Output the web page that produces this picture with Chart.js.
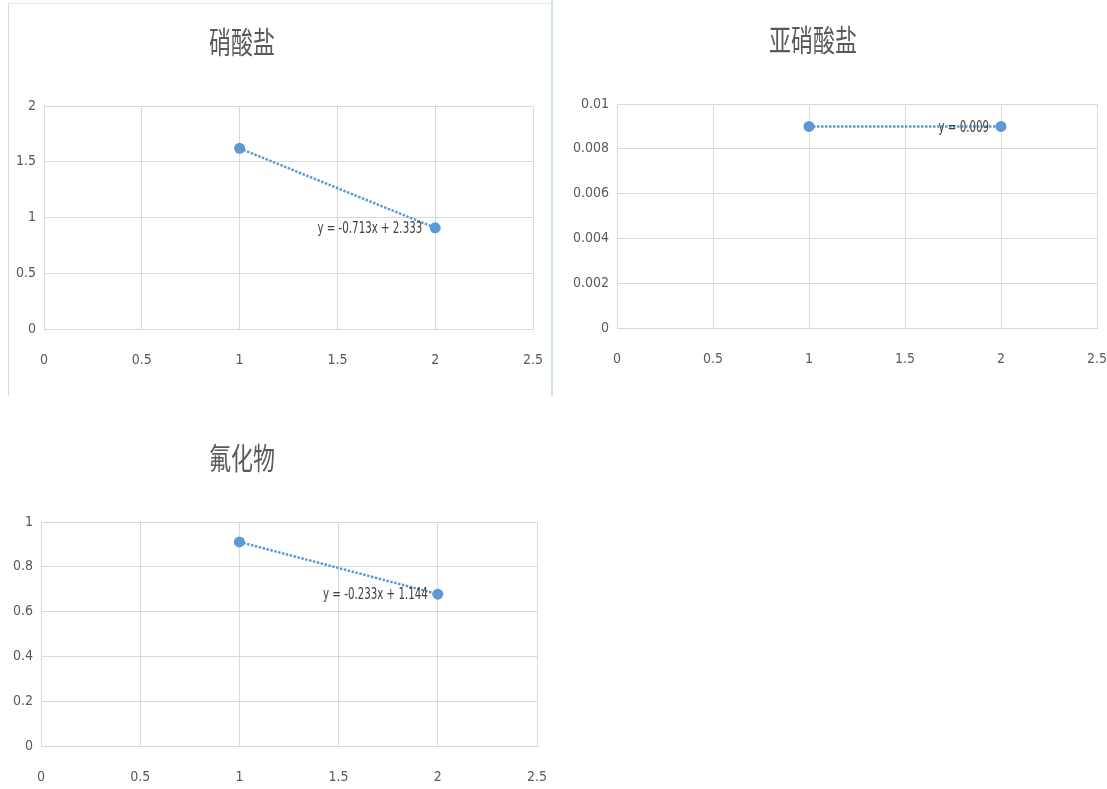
<!DOCTYPE html>
<html><head><meta charset="utf-8">
<script src="https://cdn.jsdelivr.net/npm/chart.js@4"></script>
<style>
html,body{margin:0;padding:0;background:#fff;width:1107px;height:789px;overflow:hidden;}
.box{position:absolute;}
.box canvas{display:block;}
#frame1{position:absolute;left:8px;top:3px;width:542px;height:392px;border-left:1px solid #d9d9d9;border-top:1px solid #e6e6e6;}
#sep{position:absolute;left:551px;top:0;width:2px;height:396px;background:#d3e8d3;}
</style></head><body>
<div id="frame1"></div>
<div id="sep"></div>
<div class="box" style="left:9px;top:4px;"><canvas id="c1" width="541" height="391"></canvas></div>
<div class="box" style="left:553px;top:0px;"><canvas id="c2" width="554" height="395"></canvas></div>
<div class="box" style="left:0px;top:398px;"><canvas id="c3" width="552" height="391"></canvas></div>
<script>
// ---- data ----
const titles = ['硝酸盐', '亚硝酸盐', '氟化物'];
const xValues = [1, 2];
const nitrateValues = [1.62, 0.907];
const nitriteValues = [0.009, 0.009];
const fluorideValues = [0.911, 0.678];
const equations = ['y = -0.713x + 2.333', 'y = 0.009', 'y = -0.233x + 1.144'];
const xTickLabels = ['0', '0.5', '1', '1.5', '2', '2.5'];
const nitrateYTicks = ['0', '0.5', '1', '1.5', '2'];
const nitriteYTicks = ['0', '0.002', '0.004', '0.006', '0.008', '0.01'];
const fluorideYTicks = ['0', '0.2', '0.4', '0.6', '0.8', '1'];

const BLUE = '#5b9bd5';
const GRID = '#d9d9d9';
const TXT = '#595959';
const TICKFONT = {family: '"DejaVu Sans Condensed", "Liberation Sans", sans-serif', size: 14};

const annot = {
  id: 'annot',
  afterDatasetsDraw(chart, args, o) {
    const ctx = chart.ctx;
    ctx.save();
    ctx.fillStyle = TXT;
    ctx.font = '22px "Noto Sans CJK SC"';
    ctx.textAlign = 'center';
    ctx.textBaseline = 'middle';
    ctx.translate(o.titleX, o.titleY);
    ctx.scale(1, 1.35);
    ctx.fillText(o.title, 0, 0);
    ctx.restore();

    const meta = chart.getDatasetMeta(0);
    const last = meta.data[meta.data.length - 1];
    ctx.save();
    ctx.font = '15px "DejaVu Sans Condensed", sans-serif';
    ctx.fillStyle = '#404040';
    ctx.textAlign = 'right';
    ctx.textBaseline = 'middle';
    ctx.translate(last.x - o.eqGap, last.y + 1);
    ctx.scale(0.76, 1.1);
    ctx.fillText(o.eq, 0, 0);
    ctx.restore();
  }
};

function makeChart(id, values, yMax, yStep, yLabels, title, eq, L) {
  new Chart(document.getElementById(id), {
    type: 'scatter',
    data: {
      datasets: [{
        data: xValues.map((x, i) => ({x: x, y: values[i]})),
        showLine: true,
        borderColor: BLUE,
        borderWidth: 2.5,
        borderDash: [2.5, 1.5],
        pointRadius: 5.5,
        pointHoverRadius: 5.5,
        pointBackgroundColor: BLUE,
        pointBorderColor: BLUE,
        pointBorderWidth: 0
      }]
    },
    options: {
      responsive: false,
      animation: false,
      devicePixelRatio: 1,
      layout: {padding: {left: 0, top: L.top, right: L.right, bottom: 0}},
      plugins: {
        legend: {display: false},
        tooltip: {enabled: false},
        annot: {title: title, eq: eq, titleX: L.titleX, titleY: L.titleY, eqGap: L.eqGap}
      },
      scales: {
        x: {
          type: 'linear', min: 0, max: 2.5,
          ticks: {stepSize: 0.5, padding: 23, color: TXT, font: TICKFONT, maxRotation: 0, autoSkip: false,
                  callback: (v, i) => xTickLabels[i]},
          grid: {color: GRID, drawTicks: false, lineWidth: 1},
          border: {color: GRID},
          afterFit: s => { s.height = L.xH; s.paddingLeft = 0; s.paddingRight = 0; }
        },
        y: {
          type: 'linear', min: 0, max: yMax,
          ticks: {stepSize: yStep, padding: 8, color: TXT, font: TICKFONT, autoSkip: false,
                  callback: (v, i) => yLabels[i]},
          grid: {color: GRID, drawTicks: false, lineWidth: 1},
          border: {color: GRID},
          afterFit: s => { s.width = L.yW; s.paddingTop = 0; s.paddingBottom = 0; }
        }
      }
    },
    plugins: [annot]
  });
}

makeChart('c1', nitrateValues, 2, 0.5, nitrateYTicks, titles[0], equations[0],
  {top: 102, right: 17, yW: 35, xH: 66, titleX: 233, titleY: 38, eqGap: 13});
makeChart('c2', nitriteValues, 0.01, 0.002, nitriteYTicks, titles[1], equations[1],
  {top: 104, right: 10, yW: 64, xH: 67, titleX: 260, titleY: 40, eqGap: 12});
makeChart('c3', fluorideValues, 1, 0.2, fluorideYTicks, titles[2], equations[2],
  {top: 124, right: 15, yW: 41, xH: 43, titleX: 242, titleY: 60, eqGap: 10});
</script>
</body></html>
